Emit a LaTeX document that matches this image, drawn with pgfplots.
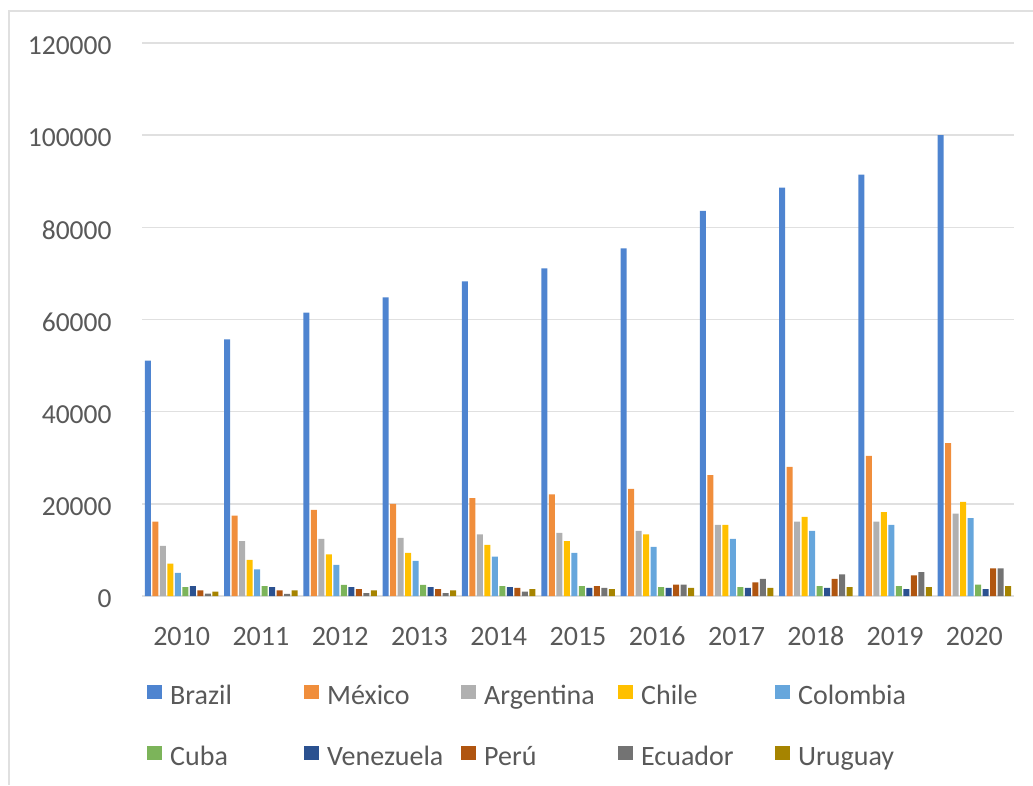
\documentclass[border=0pt]{standalone}
\usepackage{fontspec}
\setmainfont{Carlito}
\usepackage{pgfplots}
\usepackage{pgfplotstable}
\pgfplotsset{compat=1.18}

\definecolor{cBrazil}{HTML}{4E84D0}
\definecolor{cMexico}{HTML}{F08E3C}
\definecolor{cArgentina}{HTML}{B0B0B0}
\definecolor{cChile}{HTML}{FFC000}
\definecolor{cColombia}{HTML}{66A6DC}
\definecolor{cCuba}{HTML}{7CB45A}
\definecolor{cVenezuela}{HTML}{2B5190}
\definecolor{cPeru}{HTML}{B05510}
\definecolor{cEcuador}{HTML}{737373}
\definecolor{cUruguay}{HTML}{A68400}
\definecolor{textc}{HTML}{595959}
\definecolor{gridc}{HTML}{E0E0E0}

% one row per year, 2010 = 0
\pgfplotstableread{
x  Brazil Mexico Argentina Chile Colombia Cuba Venezuela Peru Ecuador Uruguay
0  51100  16150  10900     7050  5000     1950 2150      1250 500     950
1  55700  17450  11900     7850  5800     2150 1950      1250 450     1250
2  61500  18700  12400     9050  6750     2400 1950      1500 650     1250
3  64800  20000  12600     9350  7600     2400 1950      1500 650     1250
4  68300  21250  13400     11100 8550     2150 1950      1750 950     1500
5  71100  22050  13700     11900 9350     2150 1750      2150 1750    1500
6  75450  23250  14150     13400 10650    1950 1750      2450 2450    1750
7  83550  26250  15450     15450 12400    1950 1750      2950 3700    1750
8  88600  28000  16150     17150 14150    2150 1750      3700 4700    1950
9  91450  30400  16150     18200 15450    2150 1500      4500 5200    1950
10 100000 33150  17900     20450 16900    2450 1500      6000 6000    2150
}\migr

\begin{document}
\begin{tikzpicture}
\useasboundingbox (0,0) rectangle (1033pt,-785pt);
\draw[line width=1.5pt, color=gridc] (9pt,-785pt) -- (9pt,-11pt) -- (1033pt,-11pt);
\begin{axis}[
  at={(142pt,-596pt)}, anchor=south west,
  scale only axis, width=872pt, height=553pt,
  ybar=1.5pt, bar width=6pt,
  xmin=-0.5, xmax=10.5, ymin=0, ymax=120000,
  xtick={0,...,10},
  xticklabels={2010,2011,2012,2013,2014,2015,2016,2017,2018,2019,2020},
  ytick={0,20000,...,120000},
  scaled y ticks=false,
  /pgf/number format/fixed,
  /pgf/number format/precision=0,
  /pgf/number format/1000 sep={},
  /pgf/number format/assume math mode=true,
  axis line style={draw=none},
  major tick length=0pt,
  ymajorgrids,
  grid style={line width=1.5pt, color=gridc},
  tick label style={text=textc, inner sep=0pt},
  yticklabel style={anchor=east, xshift=-30.3pt, yshift=-2.7pt, font=\fontsize{27.5}{30}\selectfont},
  xticklabel style={anchor=center, yshift=-40pt, font=\fontsize{28}{30}\selectfont},
  legend columns=5,
  legend style={at={(0,0)}, anchor=north west, xshift=5pt, yshift=-88.2pt,
    draw=none, fill=none, inner sep=0pt, row sep=34pt,
    nodes={inner sep=0pt, text width=134pt, align=left, text height=20pt, text depth=7pt,
      font=\fontsize{28}{30}\selectfont, text=textc},
    /tikz/every odd column/.append style={column sep=8pt},
    /tikz/every even column/.append style={column sep=0pt}},
  legend image code/.code={\fill[#1] (0pt,-1.5pt) rectangle (15pt,12.5pt);},
]
\addplot[fill=cBrazil, draw=none] table[x=x, y=Brazil] {\migr};
\addplot[fill=cMexico, draw=none] table[x=x, y=Mexico] {\migr};
\addplot[fill=cArgentina, draw=none] table[x=x, y=Argentina] {\migr};
\addplot[fill=cChile, draw=none] table[x=x, y=Chile] {\migr};
\addplot[fill=cColombia, draw=none] table[x=x, y=Colombia] {\migr};
\addplot[fill=cCuba, draw=none] table[x=x, y=Cuba] {\migr};
\addplot[fill=cVenezuela, draw=none] table[x=x, y=Venezuela] {\migr};
\addplot[fill=cPeru, draw=none] table[x=x, y=Peru] {\migr};
\addplot[fill=cEcuador, draw=none] table[x=x, y=Ecuador] {\migr};
\addplot[fill=cUruguay, draw=none] table[x=x, y=Uruguay] {\migr};
\legend{Brazil, México, Argentina, Chile, Colombia, Cuba, Venezuela, Perú, Ecuador, Uruguay}
\end{axis}
\end{tikzpicture}
\end{document}
